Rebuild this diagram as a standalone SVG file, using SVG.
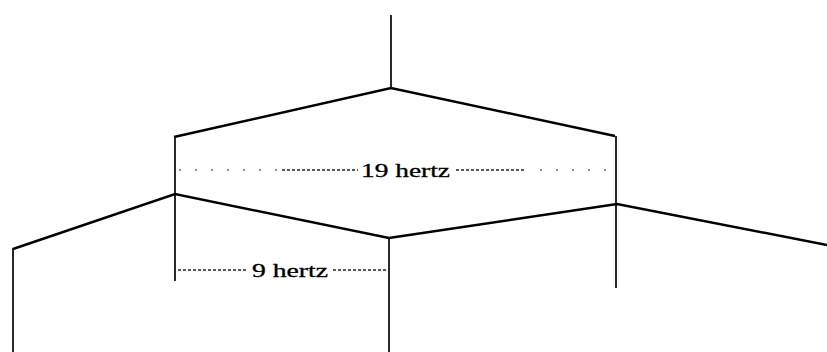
<svg xmlns="http://www.w3.org/2000/svg" width="827" height="352" viewBox="0 0 827 352">
<style>
.ln{fill:none;stroke:#000;stroke-width:2.4;stroke-linejoin:miter}
.v{fill:none;stroke:#111;stroke-width:1.8}
.d{fill:none;stroke:#222;stroke-width:1.6;stroke-dasharray:3 2}
.s{fill:none;stroke:#666;stroke-width:1.4;stroke-dasharray:2 14}
.t{font-family:"Liberation Serif","Times New Roman",serif;font-size:19px;fill:#000;stroke:#000;stroke-width:0.3}
</style>
<rect width="827" height="352" fill="#fff"/>
<g id="connectors">
<line class="v" x1="391" y1="15" x2="391" y2="88"/>
<polyline class="ln" points="174,137 391,88 615,136"/>
<line class="v" x1="175" y1="136" x2="175" y2="281"/>
<line class="v" x1="616" y1="136" x2="616" y2="288"/>
<polyline class="ln" points="13,249 175,194 389,238 617,204 827,245"/>
<line class="v" x1="13" y1="248" x2="13" y2="352"/>
<line class="v" x1="389" y1="238" x2="389" y2="352"/>
</g>
<g id="label-19">
<line class="s" x1="179" y1="170" x2="280" y2="170"/>
<line class="d" x1="282" y1="170" x2="358" y2="170"/>
<line class="d" x1="456" y1="170" x2="524" y2="170"/>
<line class="s" x1="540" y1="170" x2="612" y2="170"/>
<text class="t" x="361" y="177" textLength="89" lengthAdjust="spacingAndGlyphs">19 hertz</text>
</g>
<g id="label-9">
<line class="d" x1="178" y1="270" x2="246" y2="270"/>
<line class="d" x1="333" y1="270" x2="388" y2="270"/>
<text class="t" x="252" y="277" textLength="76" lengthAdjust="spacingAndGlyphs">9 hertz</text>
</g>
</svg>
